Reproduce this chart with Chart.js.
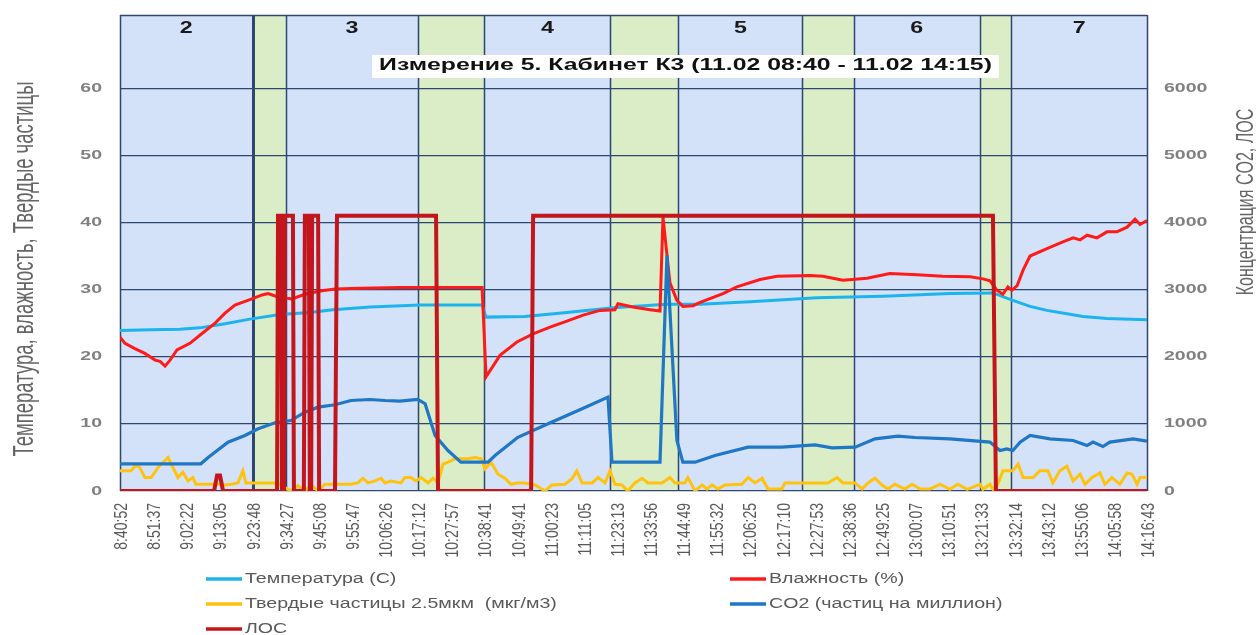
<!DOCTYPE html>
<html>

<head>
    <meta charset="utf-8">
    <title>Измерение 5. Кабинет К3</title>
    <script src="https://cdn.jsdelivr.net/npm/chart.js"></script>
    <style>
        body { margin: 0; background: #fff; }
        canvas { display: block; }
    </style>
</head>

<body>
    <canvas id="myChart" width="1256" height="635"></canvas>

    <script>
        // tick labels of the category axis (one every ~30 samples)
        const timeLabels = ["8:40:52", "8:51:37", "9:02:22", "9:13:05", "9:23:48", "9:34:27", "9:45:08", "9:55:47",
            "10:06:26", "10:17:12", "10:27:57", "10:38:41", "10:49:41", "11:00:23", "11:11:05", "11:23:13",
            "11:33:56", "11:44:49", "11:55:32", "12:06:25", "12:17:10", "12:27:53", "12:38:36", "12:49:25",
            "13:00:07", "13:10:51", "13:21:33", "13:32:14", "13:43:12", "13:55:06", "14:05:58", "14:16:43"];

        const leftTicks = [0, 10, 20, 30, 40, 50, 60];
        const rightTicks = [0, 1000, 2000, 3000, 4000, 5000, 6000];

        // lesson / break periods, in tick-label positions
        const bandEdges = [0, 4, 5, 9, 11, 14.8, 16.85, 20.6, 22.15, 25.95, 26.9, 31];
        const bandNames = ["2", "3", "4", "5", "6", "7"];

        // [position on time axis, value]
        const tempPts = [[0, 23.9], [0.91, 24.0], [1.81, 24.1], [2.41, 24.3], [3.17, 24.9], [3.92, 25.6], [4.83, 26.3],
            [5.73, 26.6], [6.43, 27.0], [7.55, 27.4], [9.06, 27.7], [10.93, 27.7], [11.05, 25.9], [12.22, 26.0],
            [13.49, 26.6], [14.88, 27.3], [16.51, 27.8], [17.51, 27.8], [19.02, 28.2], [21.04, 28.8], [23.03, 29.0],
            [25.05, 29.4], [26.35, 29.5], [26.95, 28.4], [27.47, 27.5], [27.98, 26.9], [28.58, 26.4], [29.07, 26.0],
            [29.79, 25.7], [31, 25.5]];

        const humPts = [[0, 22.9], [0.15, 22.0], [0.45, 21.2], [0.75, 20.5], [1.06, 19.5], [1.21, 19.3], [1.36, 18.6],
            [1.51, 19.5], [1.72, 21.0], [2.11, 22.0], [2.41, 23.2], [2.87, 25.0], [3.17, 26.5], [3.47, 27.7],
            [3.92, 28.5], [4.29, 29.2], [4.47, 29.4], [4.77, 28.9], [5.19, 28.6], [5.58, 29.3], [6.04, 29.8],
            [6.49, 30.1], [7.24, 30.2], [8.45, 30.3], [10.93, 30.3], [11.05, 17.0], [11.47, 20.2], [11.98, 22.2],
            [12.47, 23.4], [12.98, 24.4], [13.49, 25.3], [13.98, 26.2], [14.49, 26.9], [14.94, 27.0], [15.03, 27.9],
            [15.48, 27.4], [16.0, 27.0], [16.30, 26.8], [16.39, 40.8], [16.60, 31.0], [16.81, 28.4], [16.99, 27.5],
            [17.30, 27.6], [17.51, 28.1], [18.20, 29.4], [18.62, 30.4], [19.32, 31.5], [19.83, 32.0], [20.83, 32.1],
            [21.22, 32.0], [21.82, 31.4], [22.55, 31.7], [23.24, 32.4], [24.06, 32.2], [24.84, 32.0], [25.66, 31.9],
            [26.05, 31.6], [26.26, 31.3], [26.47, 29.9], [26.65, 29.3], [26.80, 30.4], [26.92, 29.9], [27.08, 30.6],
            [27.26, 32.9], [27.47, 35.0], [27.98, 36.1], [28.46, 37.1], [28.77, 37.7], [28.98, 37.4], [29.19, 38.1],
            [29.49, 37.7], [29.79, 38.6], [30.09, 38.6], [30.40, 39.3], [30.64, 40.5], [30.79, 39.7], [31, 40.3]];

        const pmPts = [[0, 3.0], [0.33, 3.0], [0.48, 3.8], [0.60, 3.5], [0.75, 2.0], [0.94, 2.0], [1.15, 3.5],
            [1.45, 5.0], [1.60, 3.5], [1.75, 2.0], [1.90, 2.8], [2.05, 1.5], [2.20, 2.0], [2.29, 1.0], [2.96, 1.0],
            [3.17, 0.9], [3.35, 1.0], [3.56, 1.2], [3.71, 3.0], [3.80, 1.2], [4.77, 1.2], [4.98, 0.5], [5.16, 0],
            [5.37, 0.8], [5.58, 0], [5.77, 0.9], [5.98, 0], [6.19, 1.0], [6.97, 1.0], [7.18, 1.2], [7.33, 1.9],
            [7.49, 1.2], [7.70, 1.5], [7.88, 1.9], [8.0, 1.2], [8.18, 1.5], [8.48, 1.2], [8.60, 2.0], [8.78, 2.0],
            [8.93, 1.5], [9.09, 2.0], [9.30, 1.2], [9.45, 1.9], [9.60, 1.2], [9.75, 4.0], [9.90, 4.3], [10.11, 4.8],
            [10.50, 4.8], [10.72, 5.0], [10.90, 4.8], [11.02, 3.3], [11.20, 4.3], [11.41, 2.5], [11.62, 1.9],
            [11.80, 1.0], [12.01, 1.2], [12.22, 1.2], [12.53, 0.9], [12.83, 0], [13.04, 0.9], [13.43, 1.0],
            [13.64, 1.8], [13.79, 3.0], [13.95, 1.2], [14.25, 1.2], [14.43, 2.0], [14.64, 1.2], [14.79, 3.0],
            [14.94, 1.0], [15.15, 0.9], [15.33, 0], [15.54, 1.2], [15.76, 1.9], [15.94, 1.2], [16.36, 1.2],
            [16.60, 2.0], [16.75, 1.2], [17.05, 1.2], [17.14, 2.0], [17.36, 0], [17.57, 0.9], [17.72, 0.3],
            [17.87, 0.9], [18.05, 0.3], [18.26, 0.9], [18.77, 1.0], [18.96, 2.0], [19.17, 1.2], [19.38, 1.9],
            [19.56, 0.3], [19.98, 0.3], [20.07, 1.2], [21.37, 1.2], [21.64, 2.0], [21.82, 1.2], [22.19, 1.2],
            [22.40, 0.3], [22.58, 1.2], [22.79, 1.9], [23.0, 0.9], [23.18, 0.3], [23.39, 1.0], [23.69, 0.3],
            [23.91, 1.0], [24.15, 0.3], [24.45, 0.3], [24.75, 1.0], [25.05, 0.25], [25.29, 1.0], [25.57, 0.25],
            [25.96, 1.0], [26.05, 0.25], [26.26, 1.0], [26.35, 0.25], [26.50, 1.0], [26.65, 3.0], [26.95, 3.0],
            [27.11, 4.0], [27.26, 2.0], [27.56, 2.0], [27.77, 3.0], [28.01, 3.0], [28.16, 1.2], [28.37, 3.0],
            [28.58, 3.7], [28.77, 1.5], [28.98, 2.5], [29.13, 1.0], [29.34, 2.0], [29.58, 2.7], [29.73, 1.0],
            [29.94, 2.0], [30.18, 1.0], [30.40, 2.7], [30.55, 2.5], [30.70, 1.0], [30.79, 2.0], [31, 2.0]];

        const co2Pts = [[0, 405], [2.44, 405], [2.66, 500], [3.26, 727], [3.77, 827], [4.17, 927], [4.68, 1016],
            [5.16, 1050], [5.58, 1174], [5.98, 1249], [6.49, 1284], [6.97, 1348], [7.55, 1363], [8.0, 1348],
            [8.45, 1340], [8.99, 1363], [9.21, 1300], [9.51, 827], [9.90, 603], [10.29, 429], [11.11, 429],
            [11.32, 529], [12.01, 800], [12.92, 1001], [13.95, 1225], [14.73, 1398], [14.85, 429], [16.30, 429],
            [16.51, 3509], [16.81, 752], [16.99, 429], [17.36, 429], [17.96, 529], [18.96, 653], [19.98, 653],
            [20.98, 688], [21.49, 643], [22.19, 653], [22.79, 777], [23.48, 817], [24.0, 797], [25.05, 777],
            [26.26, 728], [26.56, 603], [26.77, 628], [26.95, 603], [27.17, 728], [27.47, 827], [28.07, 777],
            [28.77, 752], [29.19, 677], [29.37, 728], [29.67, 663], [29.88, 728], [30.58, 777], [31, 742]];

        const losPts = [[0, 0], [2.84, 0], [2.93, 230], [3.02, 230], [3.11, 0], [4.74, 0], [4.77, 4100], [4.86, 4100],
            [4.89, 0], [4.95, 0], [4.98, 4100], [5.22, 4100], [5.25, 0], [5.55, 0], [5.58, 4100], [5.70, 4100],
            [5.73, 0], [5.77, 0], [5.80, 4100], [5.98, 4100], [6.01, 0], [6.49, 0], [6.55, 4100], [9.54, 4100],
            [9.60, 0], [12.41, 0], [12.47, 4100], [26.35, 4100], [26.44, 0], [31, 0]];

        const seriesNames = ["Температура (С)", "Влажность (%)", "Твердые частицы 2.5мкм  (мкг/м3)",
            "CO2 (частиц на миллион)", "ЛОС"];
        const seriesColors = ["#1DB3EF", "#FF1A1A", "#FFC20E", "#1F77C6", "#C3161C"];

        const toXY = pts => pts.map(p => ({ x: p[0], y: p[1] }));

        // text in the picture is wider than normal, so it is drawn stretched
        function drawText(ctx, text, x, y, o) {
            ctx.save();
            ctx.translate(x, y);
            if (o.vertical) {
                ctx.rotate(-Math.PI / 2);
                ctx.scale(1, o.stretch);
            } else {
                ctx.scale(o.stretch, 1);
            }
            ctx.font = o.font;
            ctx.fillStyle = o.color;
            ctx.textAlign = o.align || "center";
            ctx.textBaseline = o.baseline || "middle";
            ctx.fillText(text, 0, 0);
            ctx.restore();
        }

        const decor = {
            id: "decor",
            beforeDraw(chart) {
                const { ctx, chartArea: a, scales: { x } } = chart;
                ctx.save();
                for (let i = 0; i < bandEdges.length - 1; i++) {
                    const x0 = x.getPixelForValue(bandEdges[i]);
                    const x1 = x.getPixelForValue(bandEdges[i + 1]);
                    ctx.fillStyle = i % 2 === 0 ? "#D3E2F8" : "#DAEDC6";
                    ctx.fillRect(x0, a.top, x1 - x0, a.bottom - a.top);
                }
                ctx.restore();
            },
            beforeDatasetsDraw(chart) {
                const { ctx, chartArea: a, scales: { x } } = chart;
                ctx.save();
                ctx.strokeStyle = "#2E4672";
                bandEdges.forEach((e, i) => {
                    const px = Math.round(x.getPixelForValue(e)) + 0.5;
                    ctx.lineWidth = i === 1 ? 3 : 1.5;
                    ctx.beginPath();
                    ctx.moveTo(px, a.top);
                    ctx.lineTo(px, a.bottom);
                    ctx.stroke();
                });
                ctx.lineWidth = 1.5;
                ctx.beginPath();
                ctx.moveTo(a.left, a.top + 0.5);
                ctx.lineTo(a.right, a.top + 0.5);
                ctx.stroke();
                ctx.restore();
            },
            afterDraw(chart) {
                const { ctx, chartArea: a, scales: { x, yL, yR } } = chart;
                const sans = "'Liberation Sans', Arial, sans-serif";

                // period numbers
                for (let i = 0; i < bandNames.length; i++) {
                    const cx = (x.getPixelForValue(bandEdges[2 * i]) + x.getPixelForValue(bandEdges[2 * i + 1])) / 2;
                    drawText(ctx, bandNames[i], cx, a.top + 14, { font: "bold 16px " + sans, color: "#1a1a1a", stretch: 1.45 });
                }

                // chart title in a white box
                const title = "Измерение 5. Кабинет К3 (11.02 08:40 - 11.02 14:15)";
                ctx.save();
                ctx.font = "bold 16px " + sans;
                const tw = ctx.measureText(title).width * 1.55;
                ctx.restore();
                const tx = (a.left + a.right) / 2 + 52, ty = 66;
                ctx.fillStyle = "#ffffff";
                ctx.fillRect(tx - tw / 2 - 7, ty - 11, tw + 14, 23);
                drawText(ctx, title, tx, ty, { font: "bold 16px " + sans, color: "#111111", stretch: 1.55 });

                // axis ticks
                leftTicks.forEach(v => drawText(ctx, String(v), a.left - 18, yL.getPixelForValue(v),
                    { font: "bold 13px " + sans, color: "#808080", stretch: 1.5, align: "right" }));
                rightTicks.forEach(v => drawText(ctx, String(v), a.right + 17, yR.getPixelForValue(v),
                    { font: "bold 13px " + sans, color: "#808080", stretch: 1.5, align: "left" }));
                timeLabels.forEach((t, i) => drawText(ctx, t, x.getPixelForValue(i) + 2, a.bottom + 12,
                    { font: "14px " + sans, color: "#595959", stretch: 1.3, align: "right", vertical: true }));

                // axis titles
                drawText(ctx, "Температура, влажность, Твердые частицы", 33, 269,
                    { font: "18.5px " + sans, color: "#666666", stretch: 1.55, baseline: "alphabetic", vertical: true });
                drawText(ctx, "Концентрация CO2, ЛОС", 1253, 202,
                    { font: "16px " + sans, color: "#666666", stretch: 1.55, baseline: "alphabetic", vertical: true });

                // legend in two columns
                const cols = [206, 730], rows = [579, 604, 629];
                seriesNames.forEach((name, i) => {
                    const lx = cols[i % 2], ly = rows[Math.floor(i / 2)];
                    ctx.save();
                    ctx.strokeStyle = seriesColors[i];
                    ctx.lineWidth = 3.5;
                    ctx.beginPath();
                    ctx.moveTo(lx, ly);
                    ctx.lineTo(lx + 36, ly);
                    ctx.stroke();
                    ctx.restore();
                    drawText(ctx, name, lx + 39, ly, { font: "14px " + sans, color: "#595959", stretch: 1.4, align: "left" });
                });
            }
        };

        const allPts = [tempPts, humPts, pmPts, co2Pts, losPts];
        const axisOf = ["yL", "yL", "yL", "yR", "yR"];
        const widths = [3, 3, 3, 3.2, 4];

        const ctx = document.getElementById("myChart").getContext("2d");
        new Chart(ctx, {
            type: "line",
            data: {
                datasets: allPts.map((pts, i) => ({
                    label: seriesNames[i],
                    data: toXY(pts),
                    yAxisID: axisOf[i],
                    borderColor: seriesColors[i],
                    borderWidth: widths[i],
                    pointRadius: 0,
                    tension: 0,
                    fill: false,
                    order: 5 - i,
                })),
            },
            options: {
                responsive: false,
                animation: false,
                events: [],
                layout: { padding: { left: 120, right: 109, top: 15, bottom: 144 } },
                plugins: { legend: { display: false }, tooltip: { enabled: false } },
                scales: {
                    x: {
                        type: "linear",
                        min: 0,
                        max: timeLabels.length - 1,
                        grid: { display: false },
                        border: { display: false },
                        ticks: { display: false },
                        afterFit: s => { s.height = 0; },
                    },
                    yL: {
                        position: "left",
                        min: 0,
                        max: 70.9,
                        afterBuildTicks: s => { s.ticks = leftTicks.map(v => ({ value: v })); },
                        grid: { color: "#2E4672", lineWidth: 1.3, drawTicks: false },
                        border: { display: false },
                        ticks: { display: false },
                        afterFit: s => { s.width = 0; },
                    },
                    yR: {
                        position: "right",
                        min: 0,
                        max: 7090,
                        grid: { display: false },
                        border: { display: false },
                        ticks: { display: false },
                        afterFit: s => { s.width = 0; },
                    },
                },
            },
            plugins: [decor],
        });
    </script>
</body>

</html>
